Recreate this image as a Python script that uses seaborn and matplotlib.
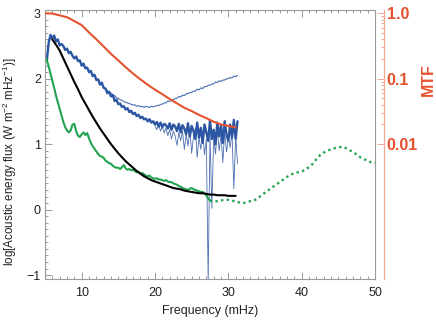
import numpy as np
import pandas as pd
import matplotlib
matplotlib.use("Agg")
import matplotlib.pyplot as plt
import seaborn as sns

# ---------------- data ----------------
# MTF curve (right axis, log scale)
freq_mtf = [5, 6, 7, 8, 9, 10, 11, 12, 13, 14, 15, 16, 17, 18, 19, 20, 21, 22,
            23, 24, 25, 26, 27, 28, 29, 30, 31]
mtf = [1.0, 0.99, 0.93, 0.87, 0.76, 0.66, 0.51, 0.40, 0.31, 0.24, 0.19, 0.15,
       0.12, 0.098, 0.081, 0.068, 0.058, 0.049, 0.042, 0.036, 0.032, 0.028,
       0.025, 0.022, 0.020, 0.019, 0.018]

# thick blue flux
freq_blue = np.arange(5.25, 31.3, 0.25)
blue_thick = [2.28, 2.55, 2.67, 2.61, 2.66, 2.57, 2.60, 2.51, 2.53, 2.50, 2.44, 2.46,
              2.39, 2.41, 2.35, 2.31, 2.34, 2.27, 2.28, 2.20, 2.23, 2.16, 2.17, 2.10,
              2.12, 2.04, 2.06, 1.98, 1.99, 1.91, 1.94, 1.86, 1.85, 1.78, 1.80, 1.73,
              1.75, 1.66, 1.68, 1.61, 1.62, 1.57, 1.58, 1.53, 1.55, 1.49, 1.51, 1.46,
              1.48, 1.43, 1.45, 1.40, 1.42, 1.38, 1.39, 1.35, 1.38, 1.33, 1.35,
              1.30, 1.34, 1.27, 1.33, 1.26, 1.31, 1.29, 1.24, 1.32, 1.22, 1.30, 1.27,
              1.20, 1.31, 1.18, 1.29, 1.24, 1.15, 1.32, 1.12, 1.28, 1.20, 1.08, 1.33,
              1.10, 1.25, 1.02, 1.30, 1.18, 1.05, 1.36, 1.08, 1.22, 1.00, 1.33, 1.12,
              1.28, 1.02, 1.35, 1.15, 1.05, 1.30, 1.10, 1.37, 1.08, 1.35]

# thin blue branch rising to high frequency
freq_blue_up = np.arange(13.0, 31.3, 0.25)
blue_up = [1.87, 1.84, 1.82, 1.79, 1.78, 1.75, 1.74, 1.71, 1.70, 1.68, 1.67, 1.65,
           1.64, 1.63, 1.62, 1.61, 1.60, 1.60, 1.58, 1.59, 1.57, 1.58, 1.56, 1.58,
           1.57, 1.56, 1.58, 1.57, 1.58, 1.59, 1.59, 1.61, 1.61, 1.63, 1.63, 1.66,
           1.65, 1.68, 1.68, 1.70, 1.70, 1.73, 1.72, 1.75, 1.74, 1.77, 1.77, 1.79,
           1.79, 1.81, 1.81, 1.84, 1.83, 1.86, 1.85, 1.88, 1.88, 1.90, 1.90, 1.92,
           1.92, 1.95, 1.94, 1.97, 1.96, 1.98, 1.98, 2.00, 2.00, 2.02, 2.01, 2.04,
           2.03, 2.05]

# thin blue noisy trace with downward spikes
freq_blue_spk = np.arange(20.0, 31.3, 0.25)
blue_spk = [1.28, 1.22, 1.30, 1.20, 1.27, 1.17, 1.25, 1.13, 1.22, 1.08, 1.20, 1.12,
            0.98, 1.18, 1.05, 1.20, 0.92, 1.15, 0.97, 1.22, 0.86, 1.12, 1.25, 0.80,
            1.10, 0.92, 1.20, 0.84, 1.08, -1.10, 1.15, 0.02, 1.10, 0.85, 1.22, 0.90,
            1.15, 0.72, 1.20, 0.88, 1.10, 0.95, 1.18, 0.32, 1.12, 0.70]

# black flux
freq_black = np.arange(6.0, 31.1, 0.5)
black = [2.60, 2.52, 2.43, 2.31, 2.19, 2.07, 1.95, 1.84, 1.72, 1.62, 1.52, 1.42,
         1.33, 1.24, 1.16, 1.08, 1.00, 0.93, 0.86, 0.80, 0.74, 0.69, 0.64, 0.59,
         0.55, 0.51, 0.48, 0.45, 0.43, 0.41, 0.39, 0.37, 0.35, 0.33, 0.32, 0.31,
         0.29, 0.28, 0.27, 0.26, 0.25, 0.25, 0.24, 0.23, 0.23, 0.22, 0.22, 0.22,
         0.21, 0.21, 0.21]

# green flux (solid part)
freq_green = np.arange(5.0, 27.6, 0.25)
green = [2.34, 2.28, 2.19, 2.08, 1.97, 1.86, 1.74, 1.64, 1.54, 1.44, 1.34, 1.26,
         1.21, 1.18, 1.21, 1.30, 1.31, 1.20, 1.13, 1.11, 1.15, 1.18, 1.14, 1.17,
         1.09, 1.02, 0.97, 0.93, 0.89, 0.85, 0.82, 0.81, 0.79, 0.75, 0.73, 0.71,
         0.70, 0.67, 0.65, 0.64, 0.64, 0.62, 0.65, 0.68, 0.63, 0.61, 0.62, 0.60,
         0.61, 0.59, 0.57, 0.58, 0.55, 0.56, 0.54, 0.52, 0.51, 0.52, 0.49, 0.48,
         0.47, 0.48, 0.46, 0.46, 0.45, 0.44, 0.45, 0.43, 0.42, 0.42, 0.40, 0.39,
         0.38, 0.36, 0.35, 0.33, 0.32, 0.31, 0.30, 0.32, 0.33, 0.31, 0.30, 0.29,
         0.28, 0.27, 0.27, 0.25, 0.22, 0.17, 0.14]

# green flux (dotted extension)
freq_green_ext = np.arange(27.5, 50.1, 0.5)
green_ext = [0.14, 0.12, 0.13, 0.14, 0.15, 0.15, 0.14, 0.12, 0.11, 0.10, 0.11, 0.13,
             0.14, 0.17, 0.22, 0.26, 0.30, 0.34, 0.38, 0.42, 0.46, 0.50, 0.53, 0.56,
             0.57, 0.58, 0.61, 0.65, 0.70, 0.77, 0.83, 0.87, 0.90, 0.92, 0.94, 0.95,
             0.96, 0.94, 0.91, 0.88, 0.84, 0.80, 0.77, 0.75, 0.72, 0.71]

x_ticks = [10, 20, 30, 40, 50]
y_ticks = [-1, 0, 1, 2, 3]
mtf_ticks = [0.01, 0.1, 1.0]
mtf_tick_labels = ["0.01", "0.1", "1.0"]

# ---------------- style ----------------
sns.set_style("ticks")
plt.rcParams["font.family"] = ["Liberation Sans", "DejaVu Sans"]
plt.rcParams["mathtext.default"] = "regular"

BLUE = "#2b56a3"
GREEN = "#22a350"
BLACK = "#000000"
RED = "#e5522f"
RED_AX = "#f3a890"
GRAY = "#9a9a9a"

fig = plt.figure(figsize=(4.36, 3.20), dpi=100)
ax = fig.add_axes([45 / 436, 41 / 320, 330 / 436, 269 / 320])

sns.lineplot(x=freq_blue_spk, y=blue_spk, ax=ax, color=BLUE, linewidth=0.6, alpha=0.85)
sns.lineplot(x=freq_blue_up, y=blue_up, ax=ax, color=BLUE, linewidth=0.8, alpha=0.85)
sns.lineplot(x=freq_blue, y=blue_thick, ax=ax, color=BLUE, linewidth=1.7)
sns.lineplot(x=freq_green, y=green, ax=ax, color=GREEN, linewidth=1.5)
sns.lineplot(x=freq_green_ext, y=green_ext, ax=ax, color=GREEN, linewidth=1.7,
             linestyle=(0, (1.0, 1.4)))
sns.lineplot(x=freq_black, y=black, ax=ax, color=BLACK, linewidth=1.5)

ax.set_xlim(5, 50)
ax.set_ylim(-1.06, 3.05)
ax.set_xticks(x_ticks)
ax.set_yticks(y_ticks)
ax.set_xticks(np.arange(5, 51, 1), minor=True)
ax.set_yticks(np.arange(-1.0, 3.01, 0.1), minor=True)
ax.set_xticklabels([str(t) for t in x_ticks])
ax.set_yticklabels(["\u22121", "0", "1", "2", "3"])
ax.tick_params(which="both", direction="in", top=True, right=True, color=GRAY,
               width=0.7, labelsize=9, labelcolor="#222222")
ax.tick_params(which="major", length=5)
ax.tick_params(which="minor", length=2.5)
ax.tick_params(axis="x", pad=6)
ax.tick_params(axis="y", pad=3)
for s in ax.spines.values():
    s.set_color(GRAY)
    s.set_linewidth(0.8)
    s.set_visible(True)

ax.set_xlabel("Frequency (mHz)", fontsize=9, color="#222222", labelpad=4)
ax.set_ylabel("")
fig.text(10 / 436, 0.495, "log[Acoustic energy flux (W m$^{-2}$ mHz$^{-1}$)]",
         rotation=90, fontsize=8.4, color="#222222", ha="center", va="center")

# ---- right MTF axis ----
ax2 = ax.twinx()
sns.lineplot(x=freq_mtf, y=mtf, ax=ax2, color=RED, linewidth=1.5)
ax2.set_yscale("log")
ax2.set_ylim(10 ** (-1.06 - 3), 10 ** (3.05 - 3))
ax2.set_ylabel("")
ax2.set_yticks(mtf_ticks)
ax2.set_yticklabels(mtf_tick_labels)
minor_mtf = [k * 10.0 ** e for e in (-2, -1) for k in range(2, 10)]
ax2.set_yticks(minor_mtf, minor=True)
ax2.yaxis.set_minor_formatter(matplotlib.ticker.NullFormatter())
ax2.spines["right"].set_position(("outward", 6.5))
ax2.spines["right"].set_color(RED_AX)
ax2.spines["right"].set_linewidth(0.9)
for k in ("top", "left", "bottom"):
    ax2.spines[k].set_visible(False)
ax2.tick_params(axis="y", which="both", direction="in", color=RED_AX, width=0.7,
                labelsize=11.5, labelcolor=RED, pad=2)
ax2.tick_params(axis="y", which="major", length=5)
ax2.tick_params(axis="y", which="minor", length=2.5)
for lab in ax2.get_yticklabels():
    lab.set_fontweight("bold")

fig.text(0.982, 0.75, "MTF", rotation=90, color=RED, fontsize=11.5,
         fontweight="bold", ha="center", va="center")

fig.savefig("out.png", dpi=100)
